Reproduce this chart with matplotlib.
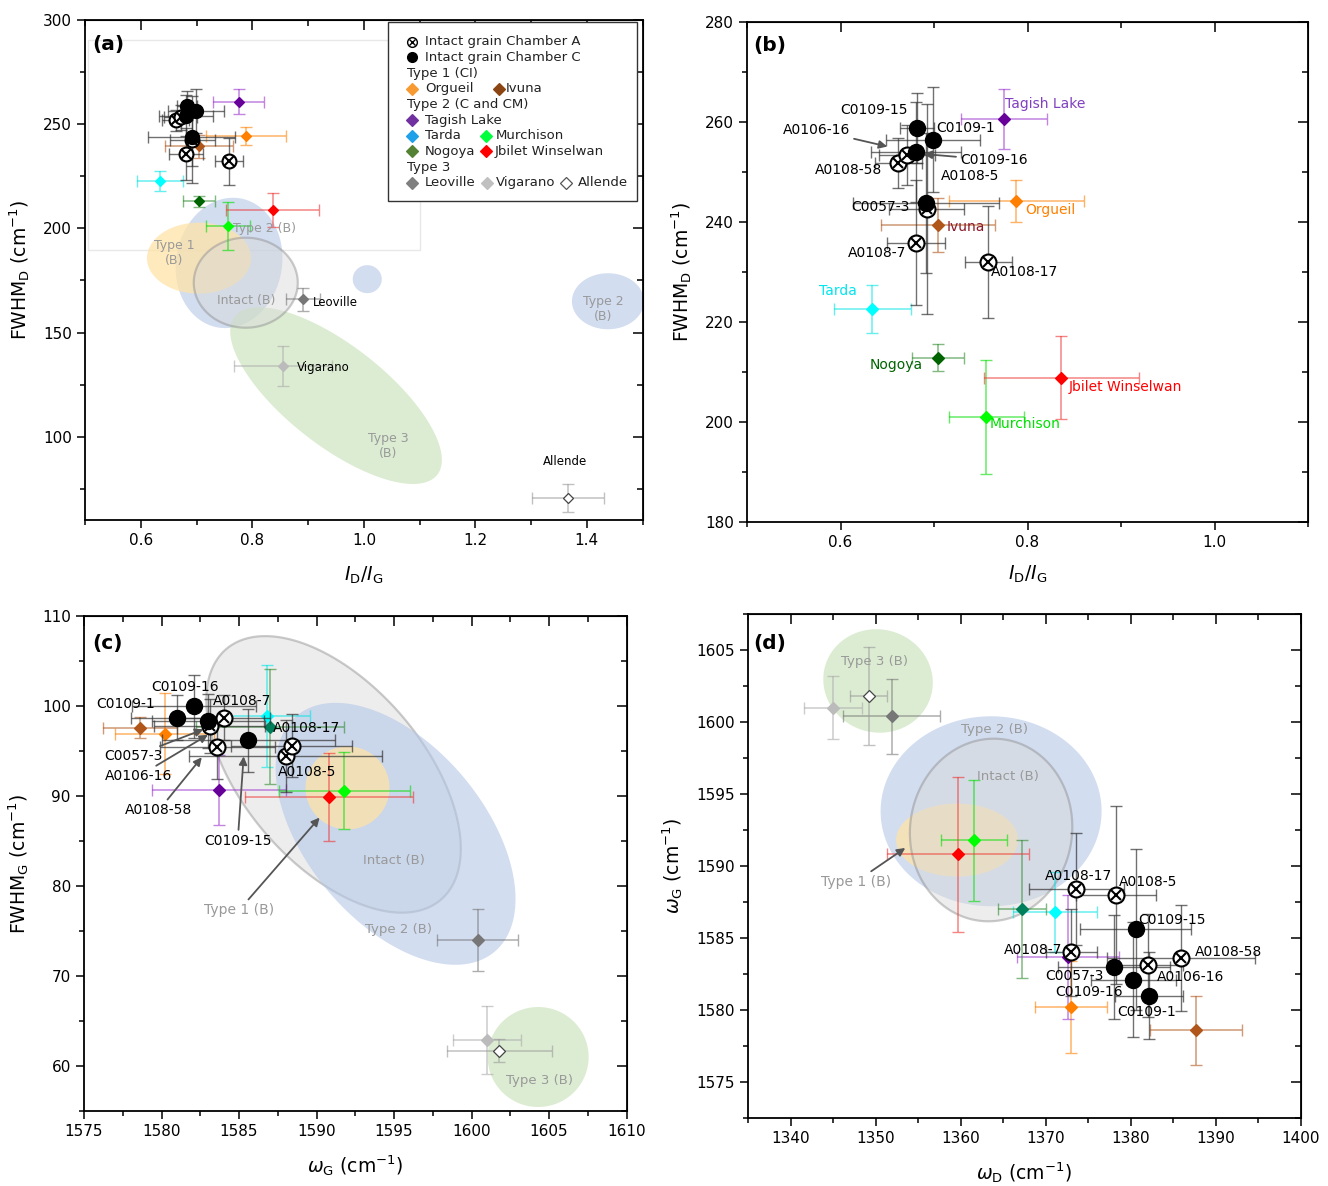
import numpy as np
import matplotlib.pyplot as plt
from matplotlib.patches import Polygon, Rectangle
from matplotlib.ticker import MultipleLocator

plt.rcParams['font.family'] = ['DejaVu Sans']
plt.rcParams['mathtext.fontset'] = 'dejavusans'

# ---------------- data ----------------
grain_ids = ["A0108-58", "A0106-16", "A0108-5", "A0108-7", "A0108-17",
             "C0109-15", "C0109-1", "C0109-16", "C0057-3"]
grain_chamber = ["A", "A", "A", "A", "A", "C", "C", "C", "C"]
grain_idig = [0.662, 0.671, 0.692, 0.681, 0.758, 0.682, 0.699, 0.681, 0.691]
grain_idig_err = [0.025, 0.030, 0.040, 0.031, 0.025, 0.018, 0.050, 0.048, 0.078]
grain_fwhm_d = [251.9, 253.4, 242.6, 235.9, 232.1, 258.8, 256.5, 254.1, 243.9]
grain_fwhm_d_err = [5.0, 6.0, 21.0, 12.5, 11.2, 7.0, 10.5, 10.0, 14.0]
grain_wg = [1583.6, 1583.1, 1588.0, 1584.0, 1588.4, 1585.6, 1581.0, 1582.1, 1583.0]
grain_wg_err = [3.7, 3.6, 6.2, 3.0, 3.9, 5.6, 3.0, 4.0, 3.6]
grain_fwhm_g = [95.4, 97.8, 94.4, 98.7, 95.6, 96.2, 98.7, 100.0, 98.3]
grain_fwhm_g_err = [3.5, 3.0, 4.0, 2.5, 3.5, 3.5, 2.5, 3.5, 3.0]
grain_wd = [1385.9, 1382.0, 1378.3, 1373.0, 1373.6, 1380.6, 1382.2, 1380.3, 1378.1]
grain_wd_err = [8.7, 4.2, 4.7, 3.0, 5.6, 6.5, 4.0, 5.0, 6.6]

met_names = ["Orgueil", "Ivuna", "Tagish Lake", "Tarda", "Murchison", "Nogoya",
             "Jbilet Winselwan", "Leoville", "Vigarano", "Allende"]
met_idig = [0.788, 0.704, 0.775, 0.634, 0.756, 0.704, 0.836, 0.891, 0.855, 1.366]
met_idig_err = [0.072, 0.061, 0.046, 0.041, 0.040, 0.028, 0.083, 0.030, 0.088, 0.065]
met_fwhm_d = [244.3, 239.4, 260.7, 222.6, 201.1, 212.9, 208.9, 165.9, 133.8, 70.5]
met_fwhm_d_err = [4.2, 5.4, 6.0, 4.8, 11.4, 2.7, 8.3, 5.6, 9.5, 6.6]
met_wg = [1580.2, 1578.6, 1583.7, 1586.8, 1591.8, 1587.0, 1590.8, 1600.4, 1601.0, 1601.8]
met_wg_err = [3.2, 2.4, 4.3, 2.8, 4.2, 4.8, 5.4, 2.6, 2.2, 3.4]
met_fwhm_g = [96.9, 97.6, 90.7, 98.9, 90.6, 97.7, 89.9, 74.0, 62.9, 61.7]
met_fwhm_g_err = [4.5, 1.2, 3.9, 5.7, 4.3, 6.4, 4.9, 3.4, 3.8, 1.3]
met_wd = [1373.0, 1387.7, 1372.7, 1371.1, 1361.6, 1367.2, 1359.7, 1351.9, 1345.0, 1349.2]
met_wd_err = [4.2, 5.4, 6.0, 4.9, 3.9, 2.8, 8.3, 5.7, 3.4, 2.2]

met_colors_ab = ["#FF8000", "#B0561A", "#660099", "#00FFFF", "#00FF00", "#006400",
                 "#FF0000", "#777777", "#BBBBBB", "white"]
met_colors_cd = ["#FF8000", "#B0561A", "#660099", "#00FFFF", "#00FF00", "#00805A",
                 "#FF0000", "#777777", "#BBBBBB", "white"]
met_ecolors = ["#FF8000", "#B0561A", "#9933CC", "#00E5E5", "#00DD00", "#2E8B2E",
               "#EE3333", "#777777", "#AAAAAA", "#999999"]

REGION = "#999999"
W, H = 1328, 1186

fig = plt.figure(figsize=(W / 100, H / 100), dpi=100)


def px_axes(l, t, w, h):
    return fig.add_axes([l / W, 1 - (t + h) / H, w / W, h / H])


def style(ax, xlim, ylim, xmaj, xmin, ymaj, ymin):
    ax.set_xlim(*xlim)
    ax.set_ylim(*ylim)
    ax.xaxis.set_major_locator(MultipleLocator(xmaj))
    ax.xaxis.set_minor_locator(MultipleLocator(xmin))
    ax.yaxis.set_major_locator(MultipleLocator(ymaj))
    ax.yaxis.set_minor_locator(MultipleLocator(ymin))
    ax.tick_params(which='both', direction='out', labelsize=11, width=1.1)
    ax.tick_params(which='major', length=6)
    ax.tick_params(which='minor', length=3.5)
    for s in ax.spines.values():
        s.set_linewidth(1.3)
    top = ax.secondary_xaxis('top')
    top.xaxis.set_major_locator(MultipleLocator(xmaj))
    top.xaxis.set_minor_locator(MultipleLocator(xmin))
    top.tick_params(which='both', direction='in', labeltop=False, width=1.1)
    top.tick_params(which='major', length=7)
    top.tick_params(which='minor', length=4)
    right = ax.secondary_yaxis('right')
    right.yaxis.set_major_locator(MultipleLocator(ymaj))
    right.yaxis.set_minor_locator(MultipleLocator(ymin))
    right.tick_params(which='both', direction='in', labelright=False, width=1.1)
    right.tick_params(which='major', length=7)
    right.tick_params(which='minor', length=4)


def blob(ax, cx, cy, w, h, ang, **kw):
    # region outline: centre in data units, size in pixels
    pos = ax.get_position()
    aw, ah = pos.width * W, pos.height * H
    x0, x1 = ax.get_xlim()
    y0, y1 = ax.get_ylim()
    fx = (cx - x0) / (x1 - x0)
    fy = (cy - y0) / (y1 - y0)
    t = np.linspace(0, 2 * np.pi, 200)
    a = np.radians(ang)
    ex, ey = w / 2 * np.cos(t), h / 2 * np.sin(t)
    rx = ex * np.cos(a) - ey * np.sin(a)
    ry = ex * np.sin(a) + ey * np.cos(a)
    ax.add_patch(Polygon(np.c_[fx + rx / aw, fy + ry / ah], closed=True,
                         transform=ax.transAxes, zorder=1, **kw))


def blue(ax, *a):
    blob(ax, *a, facecolor="#B4C7E7", alpha=0.6, edgecolor='none')


def yellow(ax, *a):
    blob(ax, *a, facecolor="#FFE3A8", alpha=0.75, edgecolor='none')


def green(ax, *a):
    blob(ax, *a, facecolor="#C5E0B4", alpha=0.6, edgecolor='none')


def intact(ax, *a):
    blob(ax, *a, facecolor="#D9D9D9", alpha=0.45, edgecolor="#8C8C8C", linewidth=1.6)


def draw_points(ax, gx, gxe, gy, gye, mx, mxe, my, mye, mcolors, circ, dia):
    for i in range(len(met_names)):
        ax.errorbar(mx[i], my[i], xerr=mxe[i], yerr=mye[i], fmt='none',
                    ecolor=met_ecolors[i], elinewidth=1.1, capsize=4, alpha=0.6, zorder=2)
        edge = "#444444" if mcolors[i] == "white" else mcolors[i]
        ax.plot(mx[i], my[i], 'D', ms=dia, mfc=mcolors[i], mec=edge, mew=0.9, zorder=3)
    for i in range(len(grain_ids)):
        ax.errorbar(gx[i], gy[i], xerr=gxe[i], yerr=gye[i], fmt='none',
                    ecolor="#333333", elinewidth=1.0, capsize=4, alpha=0.7, zorder=4)
    for i in range(len(grain_ids)):
        if grain_chamber[i] == "A":
            ax.plot(gx[i], gy[i], 'o', ms=circ, mfc='white', mec='black', mew=1.5, zorder=5)
            ax.plot(gx[i], gy[i], 'x', ms=circ * 0.68, mec='black', mew=1.5, zorder=5)
    for i in range(len(grain_ids)):
        if grain_chamber[i] == "C":
            ax.plot(gx[i], gy[i], 'o', ms=circ, mfc='black', mec='black', zorder=6)


def put_labels(ax, items, size=10):
    for text, tx, ty, color, target in items:
        if target is None:
            ax.text(tx, ty, text, color=color, fontsize=size, ha='left', va='center', zorder=7)
        else:
            ax.annotate(text, xy=target, xytext=(tx, ty), color=color, fontsize=size,
                        ha='left', va='center', zorder=7,
                        arrowprops=dict(arrowstyle='-|>', color='#555555', lw=1.3,
                                        mutation_scale=12, shrinkA=1, shrinkB=0))


def region_text(ax, x, y, text, size=9.5):
    ax.text(x, y, text, color=REGION, fontsize=size, ha='center', va='center', zorder=7)


# ---------------- (a) ----------------
ax_a = px_axes(85.3, 20, 557.2, 500)
style(ax_a, (0.5, 1.5), (60, 300), 0.2, 0.1, 50, 25)
ax_a.add_patch(Rectangle((0.505, 189.5), 0.595, 101, fill=False, edgecolor="#E8E8E8", lw=1, zorder=0))
blue(ax_a, 0.758, 183.4, 106, 131, -10)
blue(ax_a, 1.006, 175.6, 29, 28, 0)
blue(ax_a, 1.438, 165.0, 72, 56, 0)
yellow(ax_a, 0.704, 185.7, 104, 71, 0)
green(ax_a, 0.950, 119.7, 257, 100, -38)
intact(ax_a, 0.788, 173.9, 104, 90, 0)
draw_points(ax_a, grain_idig, grain_idig_err, grain_fwhm_d, grain_fwhm_d_err,
            met_idig, met_idig_err, met_fwhm_d, met_fwhm_d_err, met_colors_ab, 10, 5.5)
ax_a.text(0.909, 164.4, "Leoville", fontsize=8.5, ha='left', va='center', zorder=7)
ax_a.text(0.880, 133.2, "Vigarano", fontsize=8.5, ha='left', va='center', zorder=7)
ax_a.text(1.321, 88.0, "Allende", fontsize=8.5, ha='left', va='center', zorder=7)
region_text(ax_a, 0.659, 188.0, "Type 1\n(B)", 9)
region_text(ax_a, 0.821, 200.0, "Type 2 (B)", 9)
region_text(ax_a, 0.788, 165.4, "Intact (B)", 9)
region_text(ax_a, 1.043, 95.7, "Type 3\n(B)", 9)
region_text(ax_a, 1.429, 161.5, "Type 2\n(B)", 9)
ax_a.set_xlabel(r'$I_\mathrm{D}/I_\mathrm{G}$', fontsize=13.5, labelpad=12)
ax_a.set_ylabel(r'FWHM$_\mathrm{D}$ (cm$^{-1}$)', fontsize=13.5, labelpad=8)
ax_a.text(0.012, 0.952, "(a)", transform=ax_a.transAxes, fontsize=14.5,
          fontweight='bold', va='center', zorder=8)

# legend (drawn by hand to keep the two-column rows)
lx0, ly0 = (388 - 85.3) / 557.2, 1 - (22 - 20) / 500
lx1, ly1 = (637 - 85.3) / 557.2, 1 - (201 - 20) / 500
ax_a.add_patch(Rectangle((lx0, ly1), lx1 - lx0, ly0 - ly1, transform=ax_a.transAxes,
                         facecolor='white', edgecolor='#333333', lw=1.0, zorder=8))
row0, step = 0.9566, 0.03134
mk, tx = 0.586, 0.6096
leg_colors = {"Orgueil": "#F79A32", "Ivuna": "#8B4513", "Tagish Lake": "#7030A0",
              "Tarda": "#1FA0E8", "Murchison": "#00FF3C", "Nogoya": "#548235",
              "Jbilet Winselwan": "#FF0000", "Leoville": "#7F7F7F",
              "Vigarano": "#C0C0C0", "Allende": "white"}
leg_rows = [
    [("A", "Intact grain Chamber A", mk, tx)],
    [("C", "Intact grain Chamber C", mk, tx)],
    [(None, "Type 1 (CI)", mk, None)],
    [("Orgueil", "Orgueil", mk, tx), ("Ivuna", "Ivuna", 0.742, 0.755)],
    [(None, "Type 2 (C and CM)", mk, None)],
    [("Tagish Lake", "Tagish Lake", mk, tx)],
    [("Tarda", "Tarda", mk, tx), ("Murchison", "Murchison", 0.719, 0.737)],
    [("Nogoya", "Nogoya", mk, tx), ("Jbilet Winselwan", "Jbilet Winselwan", 0.719, 0.735)],
    [(None, "Type 3", mk, None)],
    [("Leoville", "Leoville", mk, tx), ("Vigarano", "Vigarano", 0.721, 0.737),
     ("Allende", "Allende", 0.862, 0.884)],
]
for r, row in enumerate(leg_rows):
    yy = row0 - r * step
    for key, text, mx_, tx_ in row:
        if key is None:
            ax_a.text(mx_ - 0.008, yy, text, transform=ax_a.transAxes, fontsize=9.5,
                      color='#222222', va='center', zorder=9)
            continue
        if key == "A":
            ax_a.plot(mx_, yy, 'o', ms=7, mfc='white', mec='black', mew=1.0,
                      transform=ax_a.transAxes, zorder=9)
            ax_a.plot(mx_, yy, 'x', ms=4.8, mec='black', mew=1.0,
                      transform=ax_a.transAxes, zorder=9)
        elif key == "C":
            ax_a.plot(mx_, yy, 'o', ms=7, mfc='black', mec='black',
                      transform=ax_a.transAxes, zorder=9)
        else:
            c = leg_colors[key]
            ax_a.plot(mx_, yy, 'D', ms=6.5, mfc=c, mec='#555555' if c == 'white' else c,
                      mew=0.9, transform=ax_a.transAxes, zorder=9)
        ax_a.text(tx_, yy, text, transform=ax_a.transAxes, fontsize=9.5,
                  color='#222222', va='center', zorder=9)

# ---------------- (b) ----------------
ax_b = px_axes(747, 22, 561, 500)
style(ax_b, (0.5, 1.1), (180, 280), 0.2, 0.1, 20, 10)
draw_points(ax_b, grain_idig, grain_idig_err, grain_fwhm_d, grain_fwhm_d_err,
            met_idig, met_idig_err, met_fwhm_d, met_fwhm_d_err, met_colors_ab, 11.5, 6)
put_labels(ax_b, [
    ("Tagish Lake", 0.7756, 263.6, "#8040C0", None),
    ("C0109-15", 0.600, 262.3, "black", None),
    ("A0106-16", 0.538, 258.4, "black", (0.650, 255.1)),
    ("C0109-1", 0.702, 258.9, "black", None),
    ("C0109-16", 0.728, 252.4, "black", (0.689, 253.6)),
    ("A0108-58", 0.573, 250.4, "black", None),
    ("A0108-5", 0.707, 249.3, "black", None),
    ("C0057-3", 0.611, 243.1, "black", None),
    ("Orgueil", 0.798, 242.4, "#FF8000", None),
    ("Ivuna", 0.713, 239.1, "#8B1A2B", None),
    ("A0108-7", 0.608, 233.9, "black", None),
    ("A0108-17", 0.761, 230.1, "black", None),
    ("Tarda", 0.577, 226.3, "#00E5EE", None),
    ("Nogoya", 0.631, 211.4, "#006400", None),
    ("Jbilet Winselwan", 0.844, 207.0, "#FF0000", None),
    ("Murchison", 0.759, 199.6, "#00E000", None),
])
ax_b.set_xlabel(r'$I_\mathrm{D}/I_\mathrm{G}$', fontsize=13.5, labelpad=10)
ax_b.set_ylabel(r'FWHM$_\mathrm{D}$ (cm$^{-1}$)', fontsize=13.5, labelpad=8)
ax_b.text(0.011, 0.954, "(b)", transform=ax_b.transAxes, fontsize=14.5,
          fontweight='bold', va='center', zorder=8)

# ---------------- (c) ----------------
ax_c = px_axes(84, 616, 542.5, 495)
style(ax_c, (1575, 1610), (55, 110), 5, 2.5, 10, 5)
intact(ax_c, 1591.1, 92.4, 330, 180, -49.4)
blue(ax_c, 1595.1, 85.8, 308, 177, -50)
yellow(ax_c, 1592.0, 90.9, 84, 83, 0)
green(ax_c, 1604.3, 61.0, 101, 100, 0)
draw_points(ax_c, grain_wg, grain_wg_err, grain_fwhm_g, grain_fwhm_g_err,
            met_wg, met_wg_err, met_fwhm_g, met_fwhm_g_err, met_colors_cd, 11.5, 6)
put_labels(ax_c, [
    ("C0109-16", 1579.37, 102.1, "black", None),
    ("C0109-1", 1575.77, 100.2, "black", None),
    ("A0108-7", 1583.34, 100.6, "black", None),
    ("A0108-17", 1587.19, 97.6, "black", None),
    ("C0057-3", 1576.29, 94.4, "black", (1582.7, 97.4)),
    ("A0106-16", 1576.35, 92.2, "black", (1583.0, 96.8)),
    ("A0108-58", 1577.65, 88.4, "black", (1582.6, 94.3)),
    ("A0108-5", 1587.52, 92.7, "black", None),
    ("C0109-15", 1582.74, 85.0, "black", (1585.3, 94.4)),
    ("Type 1 (B)", 1582.74, 77.3, REGION, (1590.2, 87.6)),
])
ax_c.text(1592.98, 82.8, "Intact (B)", color=REGION, fontsize=9.5, ha='left', va='center')
ax_c.text(1593.13, 75.2, "Type 2 (B)", color=REGION, fontsize=9.5, ha='left', va='center')
ax_c.text(1602.23, 58.4, "Type 3 (B)", color=REGION, fontsize=9.5, ha='left', va='center')
ax_c.set_xlabel(r'$\omega_\mathrm{G}$ (cm$^{-1}$)', fontsize=13.5, labelpad=10)
ax_c.set_ylabel(r'FWHM$_\mathrm{G}$ (cm$^{-1}$)', fontsize=13.5, labelpad=8)
ax_c.text(0.015, 0.945, "(c)", transform=ax_c.transAxes, fontsize=14.5,
          fontweight='bold', va='center', zorder=8)

# ---------------- (d) ----------------
ax_d = px_axes(748, 614, 552.5, 504)
style(ax_d, (1335, 1400), (1572.5, 1607.5), 10, 5, 5, 2.5)
green(ax_d, 1350.3, 1602.85, 110, 103, -15)
blue(ax_d, 1363.6, 1593.8, 221, 190, 0)
yellow(ax_d, 1359.6, 1591.8, 122, 73, 0)
intact(ax_d, 1363.6, 1592.5, 162, 183, -8)
draw_points(ax_d, grain_wd, grain_wd_err, grain_wg, grain_wg_err,
            met_wd, met_wd_err, met_wg, met_wg_err, met_colors_cd, 11.5, 6)
put_labels(ax_d, [
    ("A0108-17", 1369.94, 1589.3, "black", None),
    ("A0108-5", 1378.65, 1588.9, "black", None),
    ("C0109-15", 1380.88, 1586.25, "black", None),
    ("A0108-58", 1387.6, 1584.05, "black", None),
    ("A0108-7", 1365.1, 1584.2, "black", None),
    ("C0057-3", 1369.94, 1582.36, "black", None),
    ("A0106-16", 1383.1, 1582.3, "black", None),
    ("C0109-16", 1371.2, 1581.25, "black", None),
    ("C0109-1", 1378.5, 1579.86, "black", None),
    ("Type 1 (B)", 1343.55, 1588.9, REGION, (1353.5, 1591.25)),
])
ax_d.text(1345.9, 1604.2, "Type 3 (B)", color=REGION, fontsize=9.5, ha='left', va='center')
ax_d.text(1360.06, 1599.45, "Type 2 (B)", color=REGION, fontsize=9.5, ha='left', va='center')
ax_d.text(1361.9, 1596.2, "Intact (B)", color=REGION, fontsize=9.5, ha='left', va='center')
ax_d.set_xlabel(r'$\omega_\mathrm{D}$ (cm$^{-1}$)', fontsize=13.5, labelpad=10)
ax_d.set_ylabel(r'$\omega_\mathrm{G}$ (cm$^{-1}$)', fontsize=13.5, labelpad=8)
ax_d.text(0.01, 0.942, "(d)", transform=ax_d.transAxes, fontsize=14.5,
          fontweight='bold', va='center', zorder=8)

fig.savefig("out.png", dpi=100)
plt.close(fig)
